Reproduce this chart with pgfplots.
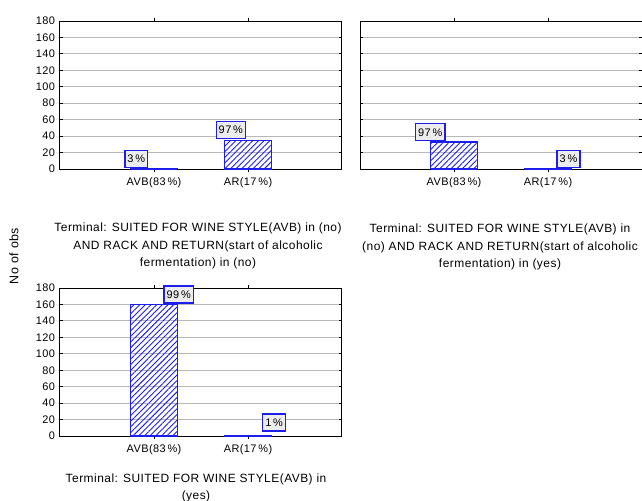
\documentclass[border=0pt]{standalone}
\usepackage{fontspec}
\setmainfont{Liberation Sans}[LetterSpace=4]
\usepackage{pgfplots}
\pgfplotsset{compat=1.18}
\usetikzlibrary{patterns.meta}

\definecolor{barblue}{RGB}{30,30,235}
\definecolor{boxfill}{RGB}{236,236,236}

\pgfplotsset{
  panel/.style={
    scale only axis, width=282bp, height=148bp,
    xmin=0, xmax=3, ymin=0, ymax=180,
    ytick={0,20,...,180},
    xtick={1,2}, xticklabels={AVB(83\,\%),AR(17\,\%)},
    tick align=inside, major tick length=3bp,
    xtick pos=both, ytick pos=both,
    ymajorgrids, grid style={black!28, line width=0.9bp},
    axis line style={line width=1bp},
    tick style={black, line width=0.9bp},
    ticklabel style={font=\fontsize{11}{12}\selectfont},
    /pgf/number format/assume math mode=true,
    xticklabel style={yshift=-2bp},
    yticklabel style={xshift=-1.5bp},
    ybar, bar width=47bp,
    clip=false,
  },
  bars/.style={draw=barblue, line width=1.3bp,
    pattern={Lines[angle=45,distance=4bp,line width=0.9bp]},
    pattern color=barblue},
}
\tikzset{pct/.style={draw=barblue, line width=1.4bp, fill=boxfill,
    inner xsep=2.5bp, inner ysep=2bp, minimum height=17bp,
    font=\fontsize{11}{12}\selectfont}}

\begin{document}
\begin{tikzpicture}
\useasboundingbox (0,0) rectangle (642bp,-501bp);

% AVB = no, RACK AND RETURN = no
\begin{axis}[panel, at={(60bp,-169bp)}, anchor=south west]
  \addplot[bars] coordinates {(1,1) (2,35)};
  \node[pct, anchor=south east] at (axis cs:0.94,1) {3\,\%};
  \node[pct, anchor=south east] at (axis cs:1.98,36) {97\,\%};
\end{axis}

% AVB = no, RACK AND RETURN = yes
\begin{axis}[panel, at={(360bp,-169bp)}, anchor=south west, yticklabels={}]
  \addplot[bars] coordinates {(1,33) (2,1)};
  \node[pct, anchor=south east] at (axis cs:0.91,33.5) {97\,\%};
  \node[pct, anchor=south west] at (axis cs:2.09,1) {3\,\%};
\end{axis}

% AVB = yes
\begin{axis}[panel, at={(60bp,-436bp)}, anchor=south west]
  \addplot[bars] coordinates {(1,160) (2,1)};
  \node[pct, anchor=south west] at (axis cs:1.10,161) {99\,\%};
  \node[pct, anchor=south west] at (axis cs:2.15,5) {1\,\%};
\end{axis}

\begin{scope}[every node/.style={align=center, font=\fontsize{12}{17.5}\selectfont}]
\node at (198bp,-246bp) {Terminal: SUITED FOR WINE STYLE(AVB) in (no)\\AND RACK AND RETURN(start of alcoholic\\fermentation) in (no)};
\node at (500bp,-247bp) {Terminal: SUITED FOR WINE STYLE(AVB) in\\(no) AND RACK AND RETURN(start of alcoholic\\fermentation) in (yes)};
\node at (196bp,-488bp) {Terminal: SUITED FOR WINE STYLE(AVB) in\\(yes)};
\node[rotate=90, font=\fontsize{12.5}{14}\selectfont] at (14bp,-256bp) {No of obs};
\end{scope}
\end{tikzpicture}
\end{document}
